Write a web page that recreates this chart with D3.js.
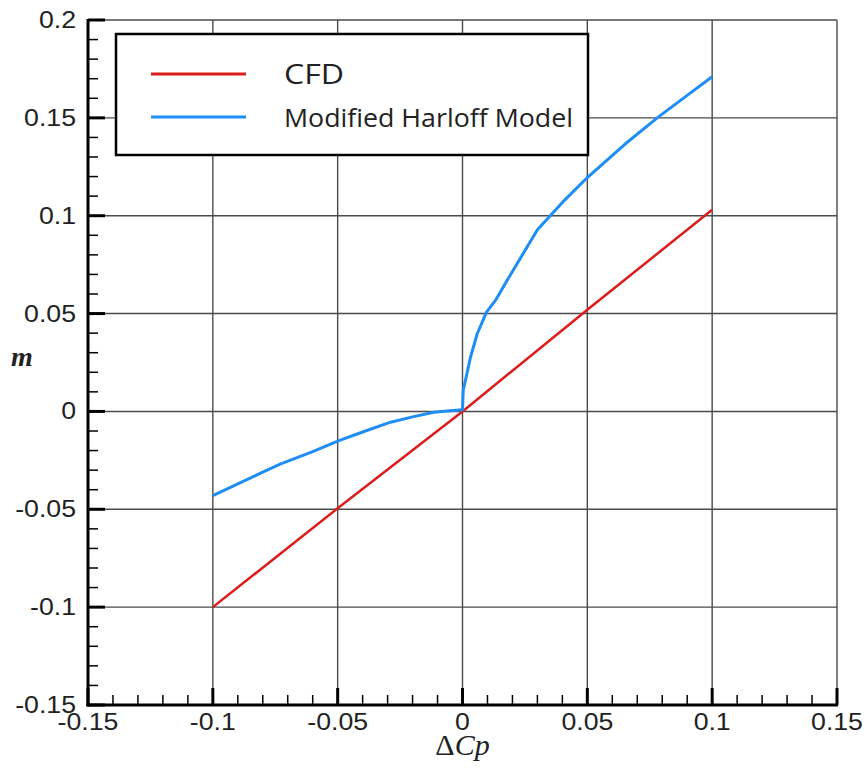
<!DOCTYPE html>
<html lang="en">
<head>
    <meta charset="UTF-8">
    <title>m vs delta Cp</title>
    <script src="https://d3js.org/d3.v7.min.js"></script>
    <style>
        body { margin: 0; background: #fff; }
        text { font-family: "Liberation Sans", Arial, sans-serif; }
    </style>
</head>
<body>
    <svg id="chart" width="866" height="769"></svg>
    <script>
        // series values
        var cfdX = [-0.1, -0.05, 0, 0.05, 0.1];
        var cfdY = [-0.1, -0.0495, 0, 0.052, 0.103];

        var harloffX = [-0.1, -0.09, -0.08, -0.0728, -0.06, -0.0495, -0.04, -0.0288, -0.02, -0.0115, -0.005, 0,
            0.0003, 0.0012, 0.0032, 0.0059, 0.0096, 0.0132, 0.0179, 0.03, 0.04, 0.05, 0.065, 0.0785, 0.09, 0.1];
        var harloffY = [-0.043, -0.037, -0.031, -0.0268, -0.0205, -0.0149, -0.0105, -0.0055, -0.0028, -0.0004, 0.0004, 0.0009,
            0.011, 0.016, 0.0277, 0.0397, 0.0507, 0.0567, 0.067, 0.0928, 0.1068, 0.1195, 0.1365, 0.1505, 0.1615, 0.171];

        var seriesNames = ["CFD", "Modified Harloff Model"];
        var seriesColors = ["#dd1c1c", "#1e8ef5"];

        var xTicks = [-0.15, -0.1, -0.05, 0, 0.05, 0.1, 0.15];
        var yTicks = [-0.15, -0.1, -0.05, 0, 0.05, 0.1, 0.15, 0.2];

        var svg = d3.select("#chart");
        // "top" is a read-only window property, so use other names
        var pLeft = 88, pRight = 837, pTop = 20, pBottom = 705;

        var x = d3.scaleLinear().domain([-0.15, 0.15]).range([pLeft, pRight]);
        var y = d3.scaleLinear().domain([-0.15, 0.2]).range([pBottom, pTop]);

        var fmt = function (d) { return String(+d.toFixed(2)); };
        var isMajor = function (d) { return Math.abs(Math.round(d * 100)) % 5 == 0; };

        // grid
        var grid = svg.append("g").attr("stroke", "#4a4a4a").attr("stroke-width", 1.4);
        grid.selectAll("line.v").data(xTicks.slice(1)).enter().append("line")
            .attr("x1", d => x(d)).attr("x2", d => x(d))
            .attr("y1", pTop).attr("y2", pBottom);
        grid.selectAll("line.h").data(yTicks.slice(1)).enter().append("line")
            .attr("x1", pLeft).attr("x2", pRight)
            .attr("y1", d => y(d)).attr("y2", d => y(d));

        // minor + major ticks pointing inward
        var minorX = d3.range(-15, 16).map(d => d / 100);
        var minorY = d3.range(-15, 21).map(d => d / 100);
        var ticks = svg.append("g").attr("stroke", "#000");
        ticks.selectAll("line.mx").data(minorX).enter().append("line")
            .attr("x1", d => x(d)).attr("x2", d => x(d))
            .attr("y1", pBottom).attr("y2", d => pBottom - (isMajor(d) ? 17 : 10))
            .attr("stroke-width", d => isMajor(d) ? 3 : 1.5);
        ticks.selectAll("line.my").data(minorY).enter().append("line")
            .attr("y1", d => y(d)).attr("y2", d => y(d))
            .attr("x1", pLeft).attr("x2", d => pLeft + (isMajor(d) ? 17 : 10))
            .attr("stroke-width", d => isMajor(d) ? 3 : 1.5);

        // axis lines
        svg.append("line").attr("x1", pLeft).attr("x2", pLeft).attr("y1", pTop - 1).attr("y2", pBottom + 1.5)
            .attr("stroke", "#000").attr("stroke-width", 3);
        svg.append("line").attr("x1", pLeft - 1.5).attr("x2", pRight + 1).attr("y1", pBottom).attr("y2", pBottom)
            .attr("stroke", "#000").attr("stroke-width", 3);

        // tick labels
        svg.selectAll("text.xt").data(xTicks).enter().append("text")
            .attr("transform", d => "translate(" + x(d) + "," + (pBottom + 25) + ") scale(1.16,1)")
            .attr("text-anchor", "middle")
            .attr("font-size", 23).attr("fill", "#222")
            .text(fmt);
        svg.selectAll("text.yt").data(yTicks).enter().append("text")
            .attr("transform", d => "translate(" + (pLeft - 12) + "," + (y(d) + 8) + ") scale(1.16,1)")
            .attr("text-anchor", "end")
            .attr("font-size", 23).attr("fill", "#222")
            .text(fmt);

        // axis titles
        var xt = svg.append("text").attr("x", x(0)).attr("y", 755).attr("text-anchor", "middle")
            .style("font-family", "'Liberation Serif', 'Times New Roman', serif").attr("font-size", 30).attr("fill", "#222");
        xt.append("tspan").text("Δ");
        xt.append("tspan").attr("font-style", "italic").text("Cp");

        svg.append("text").attr("x", 22).attr("y", 366).attr("text-anchor", "middle")
            .style("font-family", "'Liberation Serif', 'Times New Roman', serif")
            .attr("font-size", 28).attr("font-style", "italic").attr("font-weight", "bold").attr("fill", "#222")
            .text("m");

        // series
        var line = d3.line().x(d => x(d[0])).y(d => y(d[1]));
        var cfd = d3.zip(cfdX, cfdY);
        var harloff = d3.zip(harloffX, harloffY);
        svg.append("path").datum(cfd).attr("d", line)
            .attr("fill", "none").attr("stroke", seriesColors[0]).attr("stroke-width", 2.5);
        svg.append("path").datum(harloff).attr("d", line)
            .attr("fill", "none").attr("stroke", seriesColors[1]).attr("stroke-width", 3)
            .attr("stroke-linejoin", "round");

        // legend
        var lg = svg.append("g");
        lg.append("rect").attr("x", 116).attr("y", 34).attr("width", 472).attr("height", 121)
            .attr("fill", "#fff").attr("stroke", "#000").attr("stroke-width", 2.5);
        var legendWidths = [60, 289];
        seriesNames.forEach(function (name, i) {
            var ly = 74 + i * 43;
            lg.append("line").attr("x1", 151).attr("x2", 246).attr("y1", ly).attr("y2", ly)
                .attr("stroke", seriesColors[i]).attr("stroke-width", 3);
            lg.append("text").attr("x", 284).attr("y", ly + 10)
                .style("font-family", "'Open Sans', sans-serif")
                .attr("font-size", i == 0 ? 28 : 25).attr("fill", "#222")
                .attr("textLength", legendWidths[i]).attr("lengthAdjust", "spacingAndGlyphs")
                .text(name);
        });
    </script>
</body>
</html>
